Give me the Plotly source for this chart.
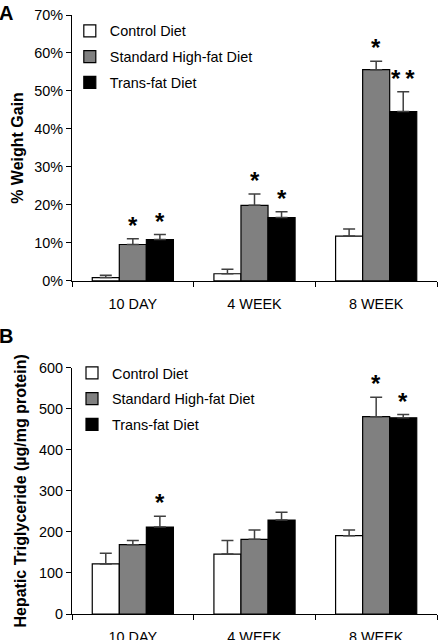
import plotly.graph_objects as go
from plotly.subplots import make_subplots

categories = ["10 DAY", "4 WEEK", "8 WEEK"]
series_names = ["Control Diet", "Standard High-fat Diet", "Trans-fat Diet"]
series_colors = ["#ffffff", "#808080", "#000000"]

# Panel A: % weight gain (fraction)
gain_control = [0.009, 0.019, 0.118]
gain_highfat = [0.096, 0.199, 0.556]
gain_trans = [0.109, 0.167, 0.446]
gain_err_control = [0.006, 0.012, 0.019]
gain_err_highfat = [0.015, 0.030, 0.022]
gain_err_trans = [0.013, 0.015, 0.052]

# Panel B: hepatic triglyceride (µg/mg protein)
tg_control = [122, 146, 191]
tg_highfat = [169, 182, 481]
tg_trans = [212, 229, 478]
tg_err_control = [26, 33, 14]
tg_err_highfat = [10, 23, 47]
tg_err_trans = [26, 19, 8]

# significance marks: (category index, series index, label)
stars_a = [(0, 1, "*"), (0, 2, "*"), (1, 1, "*"), (1, 2, "*"), (2, 1, "*"), (2, 2, "*\u2009*")]
stars_b = [(0, 2, "*"), (2, 1, "*"), (2, 2, "*")]

FONT = "Liberation Sans, Arial, sans-serif"

W, H = 440, 640
ML, MR, MT, MB = 72, 3, 15, 26

fig = make_subplots(rows=2, cols=1, vertical_spacing=0.145)

panel_a = [(gain_control, gain_err_control), (gain_highfat, gain_err_highfat), (gain_trans, gain_err_trans)]
panel_b = [(tg_control, tg_err_control), (tg_highfat, tg_err_highfat), (tg_trans, tg_err_trans)]

for row, data, legend in [(1, panel_a, "legend"), (2, panel_b, "legend2")]:
    for k, (vals, errs) in enumerate(data):
        fig.add_trace(go.Bar(
            x=categories, y=vals, name=series_names[k],
            marker=dict(color=series_colors[k], line=dict(color="#000000", width=1.2)),
            error_y=dict(type="data", symmetric=False, array=errs, arrayminus=[0] * len(errs),
                         color="#404040", thickness=1.5, width=6),
            legend=legend, legendgroup=f"{legend}{k}",
        ), row=row, col=1)

bar_w = (1 - 0.333) / 3
annotations = []
for stars, vals_errs, yref in [(stars_a, panel_a, "y"), (stars_b, panel_b, "y2")]:
    for ci, si, label in stars:
        v, e = vals_errs[si]
        annotations.append(dict(
            x=ci + (si - 1) * bar_w, y=v[ci] + e[ci], xref="x" if yref == "y" else "x2", yref=yref,
            text=f"<b>{label}</b>", showarrow=False, yanchor="bottom", yshift=-2,
            font=dict(family=FONT, size=24, color="#000000"),
        ))
annotations.append(dict(x=0.0, y=1.0, xref="paper", yref="paper", xanchor="left", yanchor="top",
                        text="<b>A</b>", showarrow=False, font=dict(family=FONT, size=20, color="#000"),
                        xshift=-75, yshift=15))
annotations.append(dict(x=0.0, y=0.411, xref="paper", yref="paper", xanchor="left", yanchor="top",
                        text="<b>B</b>", showarrow=False, font=dict(family=FONT, size=20, color="#000"),
                        xshift=-75, yshift=45))

axis_common = dict(showline=True, linecolor="#000000", linewidth=1, ticks="outside", ticklen=5,
                   tickcolor="#000000", showgrid=False, zeroline=False, automargin=False,
                   tickfont=dict(family=FONT, size=14.4, color="#000000"))

fig.update_xaxes(**axis_common, tickson="boundaries", ticklabelstandoff=10)
fig.update_yaxes(**axis_common)

fig.update_yaxes(row=1, col=1, range=[0, 0.7], dtick=0.1, tickformat=".0%",
                 title=dict(text="<b>% Weight Gain</b>", font=dict(family=FONT, size=16, color="#000"), standoff=6))
fig.update_yaxes(row=2, col=1, range=[0, 600], dtick=100,
                 title=dict(text="<b>Hepatic Triglyceride (µg/mg protein)</b>",
                            font=dict(family=FONT, size=16, color="#000"), standoff=8))

legend_common = dict(font=dict(family=FONT, size=14.4, color="#000000"), bgcolor="rgba(0,0,0,0)",
                     xanchor="left", yanchor="top", tracegroupgap=4, itemwidth=30)

fig.update_layout(
    width=W, height=H,
    margin=dict(l=ML, r=MR, t=MT, b=MB, autoexpand=False),
    paper_bgcolor="#ffffff", plot_bgcolor="#ffffff",
    barmode="group", bargap=0.333, bargroupgap=0,
    font=dict(family=FONT, color="#000000"),
    legend=dict(**legend_common, x=-0.006, y=1.0),
    legend2=dict(**legend_common, x=0.0, y=0.429),
    annotations=annotations,
)
fig.update_layout(yaxis=dict(domain=[0.556, 1.0]), yaxis2=dict(domain=[0.0, 0.411]))

# remove the browser's default 8px page margin so the 440x640 figure fills the window
fig.write_html("out.html", config={"displayModeBar": False},
               post_script="document.body.style.margin='0';")
